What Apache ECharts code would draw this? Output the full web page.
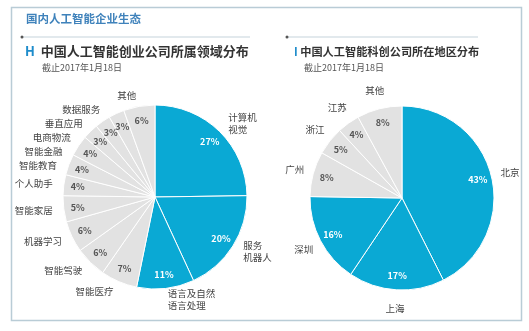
<!DOCTYPE html>
<html>
<head>
<meta charset="utf-8">
<script src="https://cdn.jsdelivr.net/npm/echarts@6/dist/echarts.min.js"></script>
<style>
html,body{margin:0;padding:0;background:#fff;}
#chart{width:529px;height:331px;}
</style>
</head>
<body>
<div id="chart"></div>
<script>
// ---- data ----
const leftNames = ['计算机\n视觉', '服务\n机器人', '语言及自然\n语言处理', '智能医疗', '智能驾驶', '机器学习', '智能家居', '个人助手', '智能教育', '智能金融', '电商物流', '垂直应用', '数据服务', '其他'];
const leftValues = [27, 20, 11, 7, 6, 6, 5, 4, 4, 4, 3, 3, 3, 6];
const leftHighlightCount = 3;

const rightNames = ['北京', '上海', '深圳', '广州', '浙江', '江苏', '其他'];
const rightValues = [43, 17, 16, 8, 5, 4, 8];
const rightHighlightCount = 3;

const headerText = '国内人工智能企业生态';
const leftTitle = '中国人工智能创业公司所属领域分布';
const rightTitle = '中国人工智能科创公司所在地区分布';
const subtitleText = '截止2017年1月18日';

// ---- styles ----
const BLUE = '#0aa9d4';
const GRAY = '#e2e2e2';
const FONT = '"Noto Sans CJK SC", "Noto Sans", sans-serif';
const NAME_LABEL = { formatter: '{b}', fontFamily: FONT, fontSize: 9.5, lineHeight: 12, color: '#444' };

function buildData(names, values, hi) {
  return names.map((n, i) => ({
    name: n,
    value: values[i],
    itemStyle: { color: i < hi ? BLUE : GRAY }
  }));
}
function buildPct(names, values, hi) {
  return names.map((n, i) => ({
    name: n,
    value: values[i],
    label: { color: i < hi ? '#ffffff' : '#555555' }
  }));
}

function ring(center, radius, data, labelOpts) {
  return {
    type: 'pie',
    center: center,
    radius: radius,
    startAngle: 90,
    clockwise: true,
    silent: true,
    data: data,
    itemStyle: { color: 'rgba(0,0,0,0)', borderWidth: 0 },
    label: Object.assign({ show: true, position: 'inside', fontFamily: FONT }, labelOpts),
    labelLine: { show: false },
    labelLayout: { hideOverlap: false },
    emphasis: { disabled: true },
    animation: false
  };
}

// outsideNames: true -> names laid out by ECharts' outside label layout (with overlap avoidance)
//               false -> names centred on a ring around the pie
function pieSeries(names, values, hi, center, outsideNames) {
  const main = {
    type: 'pie',
    center: center,
    radius: [0, 92],
    startAngle: 90,
    clockwise: true,
    avoidLabelOverlap: true,
    data: buildData(names, values, hi),
    itemStyle: { borderColor: '#ffffff', borderWidth: 1 },
    label: outsideNames
      ? Object.assign({ show: true, position: 'outside', distanceToLabelLine: 1, overflow: 'none' }, NAME_LABEL)
      : { show: false },
    labelLine: { show: false, length: 11, length2: 0 },
    emphasis: { disabled: true },
    animation: false
  };
  const out = [
    main,
    ring(center, [58, 92], buildPct(names, values, hi),
      { formatter: '{c}%', fontSize: 9, fontWeight: 'bold' })
  ];
  if (!outsideNames) {
    out.push(ring(center, [92, 124], names.map((n, i) => ({ name: n, value: values[i] })), NAME_LABEL));
  }
  return out;
}

const chart = echarts.init(document.getElementById('chart'), null, { renderer: 'canvas' });
chart.setOption({
  backgroundColor: '#ffffff',
  animation: false,
  title: [
    { text: headerText, left: 21, top: 8,
      textStyle: { fontFamily: FONT, fontSize: 11.5, fontWeight: 'bold', color: '#3f82bb' } },
    { text: '{m|H}  ' + leftTitle, left: 20, top: 40,
      textStyle: { fontFamily: FONT, fontSize: 13, fontWeight: 'bold', color: '#333',
        rich: { m: { fontFamily: FONT, fontSize: 13, fontWeight: 'bold', color: '#1e8ccb' } } } },
    { text: subtitleText, left: 37, top: 58,
      textStyle: { fontFamily: FONT, fontSize: 9, fontWeight: 'normal', color: '#555' } },
    { text: '{m|I} ' + rightTitle, left: 289, top: 41,
      textStyle: { fontFamily: FONT, fontSize: 11.2, fontWeight: 'bold', color: '#333',
        rich: { m: { fontFamily: FONT, fontSize: 11.2, fontWeight: 'bold', color: '#1e8ccb' } } } },
    { text: subtitleText, left: 299, top: 58,
      textStyle: { fontFamily: FONT, fontSize: 9, fontWeight: 'normal', color: '#555' } }
  ],
  graphic: [
    { type: 'rect', shape: { x: 11.5, y: 7.5, width: 510, height: 313 },
      style: { fill: 'none', stroke: '#b9ccd6', lineWidth: 1.5 }, silent: true },
    { type: 'line', shape: { x1: 22, y1: 37, x2: 250, y2: 37 },
      style: { stroke: '#c5d3db', lineWidth: 1 }, silent: true },
    { type: 'circle', shape: { cx: 22, cy: 37, r: 1.5 }, style: { fill: '#555' }, silent: true },
    { type: 'line', shape: { x1: 287, y1: 37, x2: 478, y2: 37 },
      style: { stroke: '#c5d3db', lineWidth: 1 }, silent: true },
    { type: 'circle', shape: { cx: 287, cy: 37, r: 1.5 }, style: { fill: '#555' }, silent: true }
  ],
  series: [
    ...pieSeries(leftNames, leftValues, leftHighlightCount, [155, 197], true),
    ...pieSeries(rightNames, rightValues, rightHighlightCount, [402, 198], false)
  ]
});
</script>
</body>
</html>
